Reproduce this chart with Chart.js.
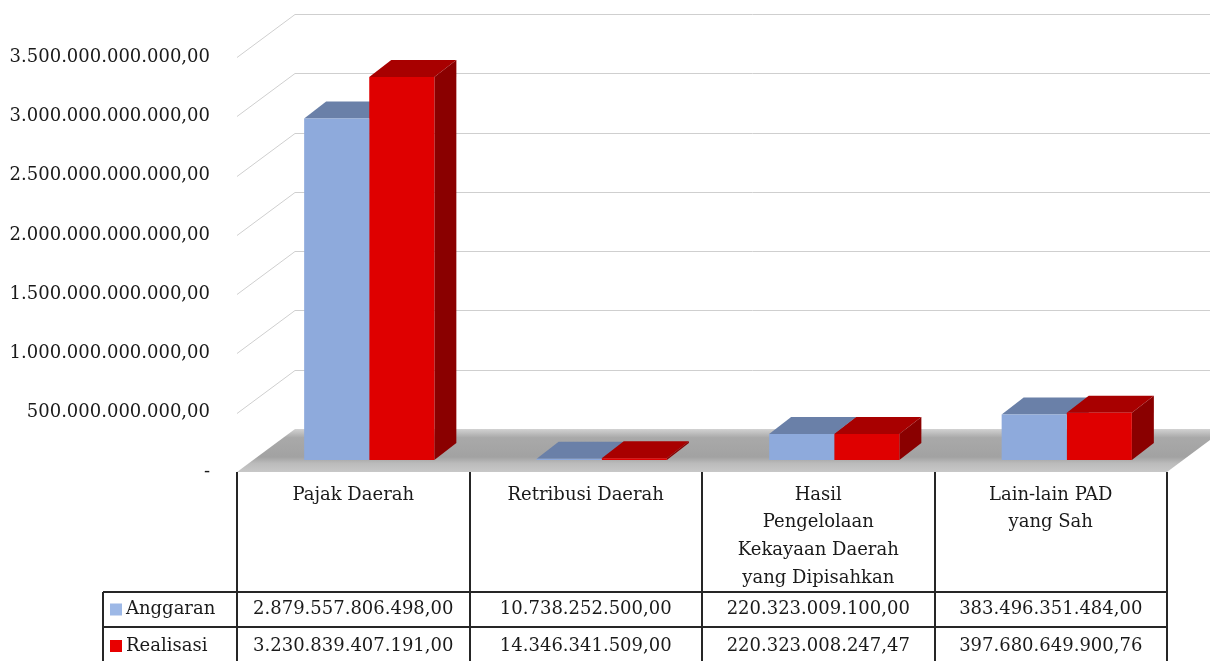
<!DOCTYPE html>
<html>
<head>
<meta charset="utf-8">
<script src="https://cdn.jsdelivr.net/npm/chart.js@4"></script>
<style>
  html, body { margin: 0; padding: 0; background: #fff; }
  #wrap { width: 1210px; height: 661px; }
</style>
</head>
<body>
<div id="wrap"><canvas id="padChart" width="1210" height="661"></canvas></div>
<script>
// data
const categories = [
  ['Pajak Daerah'],
  ['Retribusi Daerah'],
  ['Hasil', 'Pengelolaan', 'Kekayaan Daerah', 'yang Dipisahkan'],
  ['Lain-lain PAD', 'yang Sah']
];
const anggaran = [2879557806498.00, 10738252500.00, 220323009100.00, 383496351484.00];
const realisasi = [3230839407191.00, 14346341509.00, 220323008247.47, 397680649900.76];
const tickValues = [0, 500e9, 1000e9, 1500e9, 2000e9, 2500e9, 3000e9, 3500e9];

// 3d look
const BAR_DX = 22, BAR_DY = -17;     // bar depth
const FRONT_DX = 16, FRONT_DY = -12; // bars sit a bit back on the floor
const WALL_DX = 58, WALL_DY = -43;   // back wall
const FONT = '18px "DejaVu Serif"';

// 1234567,8 -> 1.234.567,80
function idr(v) {
  var parts = v.toFixed(2).split('.');
  return parts[0].replace(/\B(?=(\d{3})+(?!\d))/g, '.') + ',' + parts[1];
}

const wallAndFloor = {
  id: 'wallAndFloor',
  beforeDatasetsDraw(chart) {
    const ctx = chart.ctx, y = chart.scales.y, a = chart.chartArea;
    ctx.save();
    // gridlines on the back wall
    ctx.strokeStyle = '#cfcfcf';
    ctx.lineWidth = 1;
    tickValues.forEach(function (v) {
      if (v === 0) return;
      const py = Math.round(y.getPixelForValue(v)) + 0.5;
      ctx.beginPath();
      ctx.moveTo(a.left, py);
      ctx.lineTo(a.left + WALL_DX, py + WALL_DY);
      ctx.lineTo(chart.width, py + WALL_DY);
      ctx.stroke();
    });
    // floor
    const fy = y.getPixelForValue(0);
    const g = ctx.createLinearGradient(0, fy + WALL_DY, 0, fy);
    g.addColorStop(0, '#d2d2d2');
    g.addColorStop(0.2, '#a9a9a9');
    g.addColorStop(0.65, '#a2a2a2');
    g.addColorStop(0.8, '#bbbbbb');
    g.addColorStop(1, '#c8c8c8');
    ctx.fillStyle = g;
    ctx.beginPath();
    ctx.moveTo(a.left, fy);
    ctx.lineTo(a.right, fy);
    ctx.lineTo(a.right + WALL_DX, fy + WALL_DY);
    ctx.lineTo(a.left + WALL_DX, fy + WALL_DY);
    ctx.closePath();
    ctx.fill();
    ctx.restore();

    // bars: shift back, then draw tops and sides before chart.js draws the fronts
    ctx.save();
    ctx.translate(FRONT_DX, FRONT_DY);
    chart.data.datasets.forEach(function (ds, i) {
      chart.getDatasetMeta(i).data.forEach(function (bar) {
        const l = bar.x - bar.width / 2, r = bar.x + bar.width / 2;
        ctx.fillStyle = ds.topColor;
        ctx.beginPath();
        ctx.moveTo(l, bar.y);
        ctx.lineTo(r, bar.y);
        ctx.lineTo(r + BAR_DX, bar.y + BAR_DY);
        ctx.lineTo(l + BAR_DX, bar.y + BAR_DY);
        ctx.closePath();
        ctx.fill();
        ctx.fillStyle = ds.sideColor;
        ctx.beginPath();
        ctx.moveTo(r, bar.y);
        ctx.lineTo(r + BAR_DX, bar.y + BAR_DY);
        ctx.lineTo(r + BAR_DX, bar.base + BAR_DY);
        ctx.lineTo(r, bar.base);
        ctx.closePath();
        ctx.fill();
      });
    });
  },
  afterDatasetsDraw(chart) {
    chart.ctx.restore();
  }
};

// data table under the chart
const dataTable = {
  id: 'dataTable',
  afterDraw(chart) {
    const ctx = chart.ctx, x = chart.scales.x, a = chart.chartArea;
    const top = a.bottom, row1 = 592, row2 = 627, bottom = chart.height, legLeft = 103;
    const colW = (a.right - a.left) / categories.length;
    ctx.save();
    ctx.strokeStyle = '#262626';
    ctx.lineWidth = 2;
    ctx.beginPath();
    for (let i = 0; i <= categories.length; i++) {
      const cx = Math.round(a.left + i * colW);
      ctx.moveTo(cx, top);
      ctx.lineTo(cx, bottom);
    }
    ctx.moveTo(legLeft, row1); ctx.lineTo(a.right, row1);
    ctx.moveTo(legLeft, row2); ctx.lineTo(a.right, row2);
    ctx.moveTo(legLeft, row1); ctx.lineTo(legLeft, bottom);
    ctx.stroke();

    ctx.fillStyle = '#1a1a1a';
    ctx.font = FONT;
    ctx.textAlign = 'center';
    ctx.textBaseline = 'middle';
    categories.forEach(function (lines, i) {
      const cx = x.getPixelForValue(i);
      lines.forEach(function (t, j) { ctx.fillText(t, cx, 495 + j * 27.7); });
      ctx.fillText(idr(anggaran[i]), cx, (row1 + row2) / 2);
      ctx.fillText(idr(realisasi[i]), cx, (row2 + bottom) / 2 + 2);
    });

    // legend keys
    ctx.textAlign = 'left';
    chart.data.datasets.forEach(function (ds, i) {
      const cy = i === 0 ? (row1 + row2) / 2 : (row2 + bottom) / 2 + 2;
      ctx.fillStyle = ds.keyColor;
      ctx.fillRect(110, cy - 6, 12, 12);
      ctx.fillStyle = '#1a1a1a';
      ctx.fillText(ds.label, 126, cy);
    });
    ctx.restore();
  }
};

new Chart(document.getElementById('padChart'), {
  type: 'bar',
  data: {
    labels: categories,
    datasets: [{
      label: 'Anggaran',
      data: anggaran,
      backgroundColor: '#8eaadc',
      topColor: '#6a80a8',
      sideColor: '#5b6f96',
      keyColor: '#9db8e6'
    }, {
      label: 'Realisasi',
      data: realisasi,
      backgroundColor: '#df0000',
      topColor: '#a80000',
      sideColor: '#8a0000',
      keyColor: '#e80000'
    }]
  },
  options: {
    responsive: false,
    animation: false,
    events: [],
    layout: { padding: { left: 0, right: 43, top: 57, bottom: 189 } },
    categoryPercentage: 0.56,
    barPercentage: 1.0,
    plugins: { legend: { display: false }, tooltip: { enabled: false } },
    scales: {
      x: { display: false },
      y: {
        min: 0,
        max: 3500e9,
        afterFit: function (scale) { scale.width = 237; },
        afterBuildTicks: function (scale) {
          scale.ticks = tickValues.map(function (v) { return { value: v }; });
        },
        grid: { display: false, drawTicks: false },
        border: { display: false },
        ticks: {
          padding: 27,
          color: '#1a1a1a',
          font: { family: 'DejaVu Serif', size: 18 },
          callback: function (v) { return v === 0 ? '-' : idr(v); }
        }
      }
    }
  },
  plugins: [wallAndFloor, dataTable]
});
</script>
</body>
</html>
